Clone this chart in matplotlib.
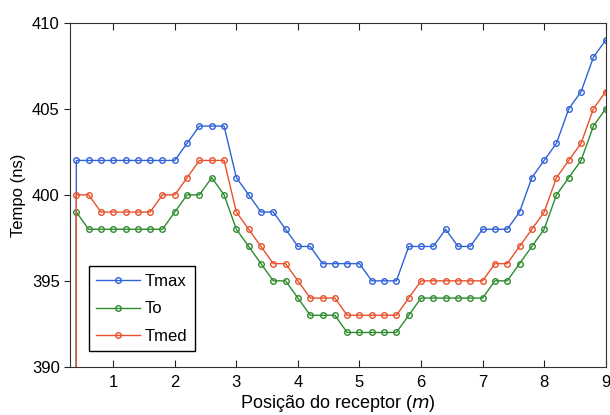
import numpy as np
import matplotlib.pyplot as plt

plt.rcParams['font.family'] = ['Liberation Sans', 'DejaVu Sans']

# posicao do receptor (m); first point is the off-scale start of each trace
posicao = [0.4] + [round(0.4 + 0.2 * i, 1) for i in range(44)]

tmax = [380,
        402, 402, 402, 402, 402, 402, 402, 402, 402, 403,
        404, 404, 404, 401, 400, 399, 399, 398, 397, 397,
        396, 396, 396, 396, 395, 395, 395, 397, 397, 397,
        398, 397, 397, 398, 398, 398, 399, 401, 402, 403,
        405, 406, 408, 409]
to = [380,
      399, 398, 398, 398, 398, 398, 398, 398, 399, 400,
      400, 401, 400, 398, 397, 396, 395, 395, 394, 393,
      393, 393, 392, 392, 392, 392, 392, 393, 394, 394,
      394, 394, 394, 394, 395, 395, 396, 397, 398, 400,
      401, 402, 404, 405]
tmed = [380,
        400, 400, 399, 399, 399, 399, 399, 400, 400, 401,
        402, 402, 402, 399, 398, 397, 396, 396, 395, 394,
        394, 394, 393, 393, 393, 393, 393, 394, 395, 395,
        395, 395, 395, 395, 396, 396, 397, 398, 399, 401,
        402, 403, 405, 406]

fig = plt.figure(figsize=(6.1, 4.15), dpi=100)
ax = fig.add_axes([0.115, 0.116, 0.878, 0.829])

estilo = dict(marker='o', markersize=4, markerfacecolor='none', linewidth=1, markeredgewidth=1)
ax.plot(posicao, tmax, color='#2f62d8', label='Tmax', **estilo)
ax.plot(posicao, to, color='#2e8b2e', label='To', **estilo)
ax.plot(posicao, tmed, color='#e8512b', label='Tmed', **estilo)

ax.set_xlim(0.3, 9)
ax.set_ylim(390, 410)
ax.set_xticks(range(1, 10))
ax.set_yticks([390, 395, 400, 405, 410])
ax.tick_params(axis='x', direction='in', top=True, length=5, pad=6, labelsize=12,
               colors='#222222', labelcolor='black')
ax.tick_params(axis='y', direction='out', length=4, labelsize=12, colors='#222222', labelcolor='black')
for s in ax.spines.values():
    s.set_color('#333333')

ax.set_xlabel(r'Posição do receptor ($\it{m}$)', fontsize=13, labelpad=2)
ax.set_ylabel('Tempo (ns)', fontsize=12, labelpad=4)

leg = ax.legend(loc='lower left', bbox_to_anchor=(0.035, 0.045), fontsize=12, fancybox=False,
                edgecolor='black', framealpha=1, handlelength=2.6, borderpad=0.45,
                labelspacing=0.75, handletextpad=0.3, borderaxespad=0)
leg.get_frame().set_linewidth(1)

plt.savefig('out.png', dpi=100)
